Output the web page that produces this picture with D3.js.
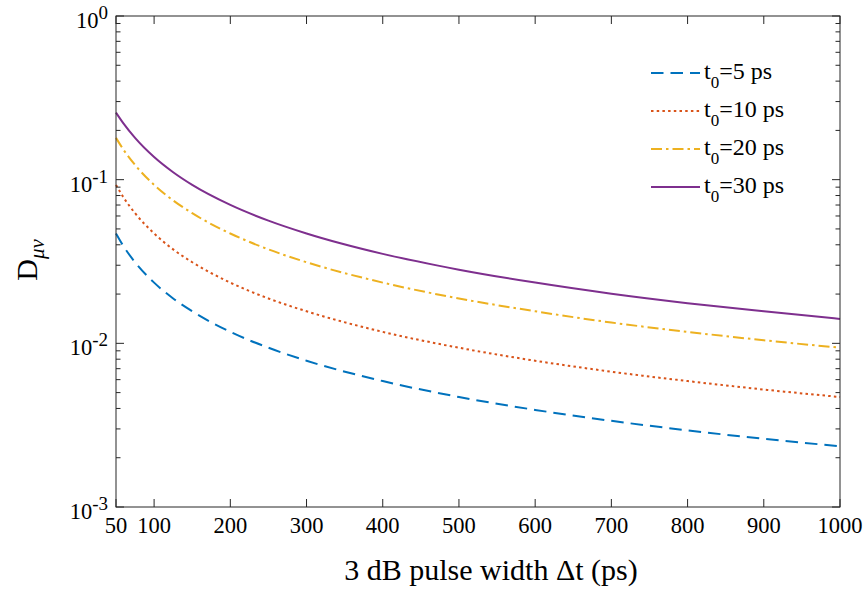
<!DOCTYPE html>
<html>
<head>
<meta charset="utf-8">
<script src="https://cdn.jsdelivr.net/npm/d3@7"></script>
<style>
  html, body { margin: 0; padding: 0; background: #fff; }
  svg { display: block; font-family: "Liberation Serif", "Times New Roman", serif; }
</style>
</head>
<body>
<svg id="chart" width="865" height="591"></svg>
<script>
// ---- data ----
const pulseWidth = [50, 60, 75, 100, 125, 150, 200, 250, 300, 400, 500, 600, 700, 800, 900, 1000];
const d_t5  = [0.0469, 0.0391, 0.0313, 0.0235, 0.0188, 0.0157, 0.01175, 0.0094, 0.00783, 0.00588, 0.0047, 0.00392, 0.00336, 0.00294, 0.00261, 0.00235];
const d_t10 = [0.0929, 0.0777, 0.0624, 0.0469, 0.0375, 0.0313, 0.0235, 0.0188, 0.0157, 0.01175, 0.0094, 0.00783, 0.00671, 0.00588, 0.00522, 0.0047];
const d_t20 = [0.180, 0.152, 0.123, 0.0929, 0.0747, 0.0624, 0.0469, 0.0375, 0.0313, 0.0235, 0.0188, 0.0157, 0.0134, 0.01175, 0.01044, 0.0094];
const d_t30 = [0.257, 0.220, 0.180, 0.1375, 0.111, 0.0929, 0.0701, 0.0562, 0.0469, 0.0352, 0.0282, 0.0235, 0.0201, 0.0176, 0.0157, 0.0141];
const seriesNames = ["5", "10", "20", "30"];
const xTickValues = [50, 100, 200, 300, 400, 500, 600, 700, 800, 900, 1000];
const yDecades = [-3, -2, -1, 0];

const seriesStyle = [
  { values: d_t5,  color: "#0072BD", dash: "12.5,7" },
  { values: d_t10, color: "#D95319", dash: "2.5,3.2" },
  { values: d_t20, color: "#EDB120", dash: "11,4,2.5,4" },
  { values: d_t30, color: "#7E2F8E", dash: null }
];

const svg = d3.select("#chart");
const L = 116, R = 840, T = 16, B = 507;
const axisColor = "#262626";

const x = d3.scaleLinear().domain([50, 1000]).range([L, R]);
const y = d3.scaleLog().domain([1e-3, 1]).range([B, T]);

// minor y ticks
const minor = [];
for (let k = -3; k < 0; k++) for (let m = 2; m <= 9; m++) minor.push(m * Math.pow(10, k));

const g = svg.append("g");

// curves
const line = d3.line()
  .x((d, i) => x(pulseWidth[i]))
  .y(d => y(d))
  .curve(d3.curveMonotoneX);

seriesStyle.forEach(s => {
  g.append("path")
    .attr("d", line(s.values))
    .attr("fill", "none")
    .attr("stroke", s.color)
    .attr("stroke-width", 2)
    .attr("stroke-dasharray", s.dash)
    .attr("stroke-linecap", "butt");
});

// box
const ax = svg.append("g").attr("stroke", axisColor).attr("stroke-width", 1).attr("fill", "none");
ax.append("rect").attr("x", L).attr("y", T).attr("width", R - L).attr("height", B - T);

// x ticks (inward, bottom and top)
xTickValues.forEach(v => {
  ax.append("line").attr("x1", x(v)).attr("x2", x(v)).attr("y1", B).attr("y2", B - 8);
  ax.append("line").attr("x1", x(v)).attr("x2", x(v)).attr("y1", T).attr("y2", T + 8);
});
// y major ticks
yDecades.forEach(k => {
  const yy = y(Math.pow(10, k));
  ax.append("line").attr("x1", L).attr("x2", L + 8).attr("y1", yy).attr("y2", yy);
  ax.append("line").attr("x1", R).attr("x2", R - 8).attr("y1", yy).attr("y2", yy);
});
// y minor ticks
minor.forEach(v => {
  const yy = y(v);
  ax.append("line").attr("x1", L).attr("x2", L + 4.5).attr("y1", yy).attr("y2", yy);
  ax.append("line").attr("x1", R).attr("x2", R - 4.5).attr("y1", yy).attr("y2", yy);
});

// x tick labels
xTickValues.forEach(v => {
  svg.append("text")
    .attr("x", x(v)).attr("y", B + 26)
    .attr("text-anchor", "middle")
    .attr("font-size", 22.5)
    .attr("fill", "#000")
    .text(v);
});

// y tick labels 10^k
yDecades.forEach(k => {
  const yy = y(Math.pow(10, k));
  const t = svg.append("text")
    .attr("x", 108).attr("y", yy + 12)
    .attr("text-anchor", "end")
    .attr("font-size", 22.5)
    .attr("fill", "#000");
  t.append("tspan").text("10");
  t.append("tspan").attr("dy", -9).attr("font-size", 19).text(String(k));
});

// axis labels
svg.append("text")
  .attr("x", 491).attr("y", 580)
  .attr("text-anchor", "middle")
  .attr("font-size", 30)
  .attr("fill", "#000")
  .text("3 dB pulse width \u0394t (ps)");

const yl = svg.append("text")
  .attr("transform", "translate(37,260) rotate(-90)")
  .attr("text-anchor", "middle")
  .attr("font-size", 30)
  .attr("fill", "#000");
yl.append("tspan").text("D");
yl.append("tspan").attr("dy", 7).attr("font-size", 21).attr("font-style", "italic").text("\u03BC\u03BD");

// legend
const legY = [73, 111, 149, 187];
seriesStyle.forEach((s, i) => {
  const yy = legY[i];
  svg.append("line")
    .attr("x1", 651).attr("x2", 700).attr("y1", yy).attr("y2", yy)
    .attr("stroke", s.color).attr("stroke-width", 2)
    .attr("stroke-dasharray", s.dash);
  const t = svg.append("text")
    .attr("x", 704).attr("y", yy + 6)
    .attr("font-size", 24)
    .attr("fill", "#000");
  t.append("tspan").text("t");
  t.append("tspan").attr("dy", 9).attr("font-size", 17).text("0");
  t.append("tspan").attr("dy", -9).text("=" + seriesNames[i] + " ps");
});
</script>
</body>
</html>
